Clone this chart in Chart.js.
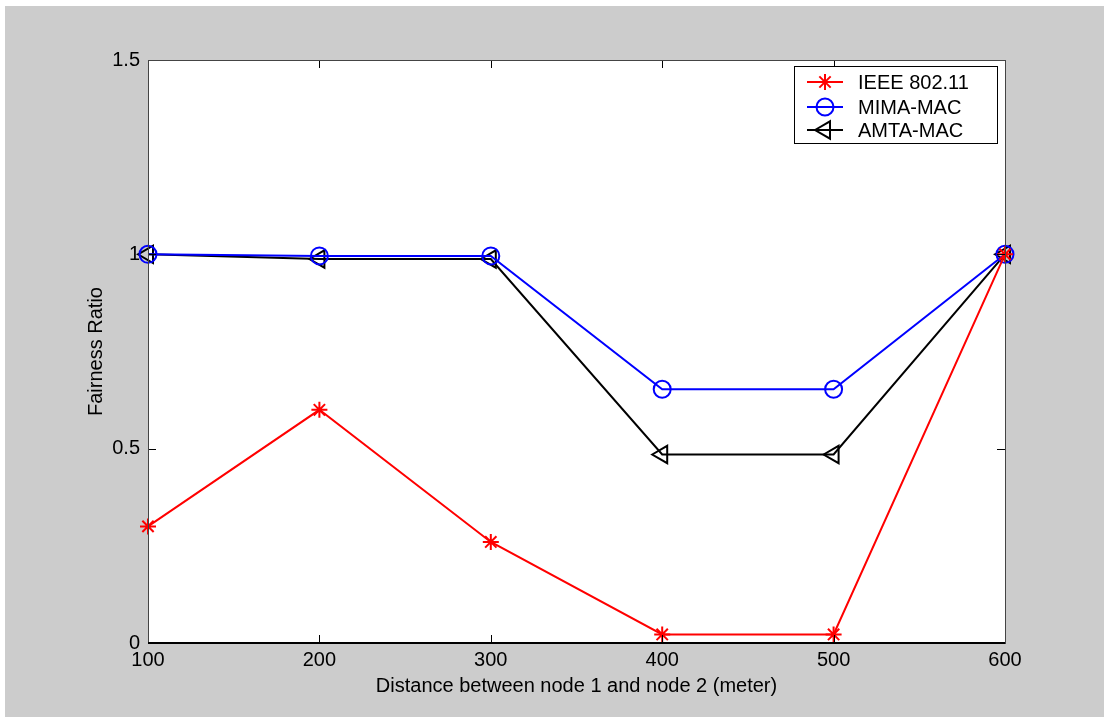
<!DOCTYPE html>
<html lang="en">
<head>
  <meta charset="UTF-8">
  <title>Fairness Ratio</title>
  <script src="https://cdn.jsdelivr.net/npm/chart.js@4.4.2/dist/chart.umd.min.js"></script>
  <style>
    body{
      margin: 0;
      background-color: white;
      width: 1104px;
      height: 717px;
      overflow: hidden;
    }
    #myChart{
      position: absolute;
      left: 5px;
      top: 6px;
      background-color: #cccccc;
    }
  </style>
</head>
<body>
  <canvas id="myChart" width="1099" height="711"></canvas>
  <script>
    // data
    const distances = [100, 200, 300, 400, 500, 600];
    const ieee = [0.3, 0.6, 0.26, 0.022, 0.022, 1.0];
    const mima = [1.0, 0.996, 0.996, 0.653, 0.653, 1.0];
    const amta = [1.0, 0.988, 0.988, 0.485, 0.485, 1.0];
    const yTicks = [0, 0.5, 1, 1.5];
    const seriesNames = ['IEEE 802.11', 'MIMA-MAC', 'AMTA-MAC'];

    const FONT = 'Arial, "Liberation Sans", sans-serif';

    function pts(ys){
      return distances.map((x, i) => ({x: x, y: ys[i]}));
    }

    // matlab style box with inward ticks, plus the legend
    const frame = {
      id: 'frame',
      beforeDatasetsDraw(chart){
        const {ctx, chartArea: a} = chart;
        ctx.save();
        ctx.fillStyle = 'white';
        ctx.fillRect(a.left, a.top, a.right - a.left, a.bottom - a.top);
        ctx.restore();
      },
      afterDatasetsDraw(chart){
        const {ctx, chartArea: a, scales: {x, y}} = chart;
        ctx.save();
        ctx.strokeStyle = '#000';
        ctx.lineWidth = 1;
        const L = 8;
        ctx.beginPath();
        distances.forEach(d => {
          const px = Math.round(x.getPixelForValue(d)) + 0.5;
          ctx.moveTo(px, a.bottom); ctx.lineTo(px, a.bottom - L);
          ctx.moveTo(px, a.top); ctx.lineTo(px, a.top + L);
        });
        yTicks.forEach(v => {
          const py = Math.round(y.getPixelForValue(v)) + 0.5;
          ctx.moveTo(a.left, py); ctx.lineTo(a.left + L, py);
          ctx.moveTo(a.right, py); ctx.lineTo(a.right - L, py);
        });
        ctx.stroke();
        ctx.strokeStyle = '#444';
        ctx.strokeRect(Math.round(a.left) + 0.5, Math.round(a.top) + 0.5,
          Math.round(a.right - a.left), Math.round(a.bottom - a.top));
        ctx.strokeStyle = '#000';
        ctx.lineWidth = 2;
        ctx.beginPath();
        ctx.moveTo(a.left, Math.round(a.bottom));
        ctx.lineTo(a.right, Math.round(a.bottom));
        ctx.stroke();

        // legend
        const bx = 789, by = 60, bw = 203, bh = 77;
        ctx.fillStyle = 'white';
        ctx.fillRect(bx, by, bw, bh);
        ctx.strokeStyle = '#000';
        ctx.lineWidth = 1;
        ctx.strokeRect(bx + 0.5, by + 0.5, bw, bh);
        const rows = [76, 101, 124];
        chart.data.datasets.forEach((ds, i) => {
          const ry = rows[i];
          ctx.strokeStyle = ds.borderColor;
          ctx.lineWidth = 2;
          ctx.beginPath();
          ctx.moveTo(802, ry); ctx.lineTo(838, ry);
          ctx.stroke();
          ctx.fillStyle = 'rgba(0,0,0,0)';
          ctx.strokeStyle = ds.pointBorderColor;
          ctx.lineWidth = ds.pointBorderWidth;
          Chart.helpers.drawPoint(ctx, {
            pointStyle: ds.pointStyle,
            radius: ds.pointRadius,
            rotation: ds.pointRotation || 0,
            borderWidth: ds.pointBorderWidth
          }, 820, ry);
          ctx.fillStyle = '#000';
          ctx.font = '20px ' + FONT;
          ctx.textBaseline = 'middle';
          ctx.textAlign = 'left';
          ctx.fillText(seriesNames[i], 853, ry + 1);
        });
        ctx.restore();
      }
    };

    const ctx = document.getElementById('myChart').getContext('2d');
    const myChart = new Chart(ctx, {
      type: 'line',
      data: {
        datasets: [{
          label: seriesNames[0],
          data: pts(ieee),
          borderColor: '#ff0000',
          backgroundColor: '#ff0000',
          borderWidth: 2,
          pointStyle: 'star',
          pointRadius: 8,
          pointBorderWidth: 2,
          pointBorderColor: '#ff0000',
          clip: false
        }, {
          label: seriesNames[1],
          data: pts(mima),
          borderColor: '#0000ff',
          backgroundColor: 'rgba(0,0,0,0)',
          borderWidth: 2,
          pointStyle: 'circle',
          pointRadius: 8.5,
          pointBorderWidth: 2,
          pointBorderColor: '#0000ff',
          clip: false
        }, {
          label: seriesNames[2],
          data: pts(amta),
          borderColor: '#000000',
          backgroundColor: 'rgba(0,0,0,0)',
          borderWidth: 2,
          pointStyle: 'triangle',
          pointRotation: -90,
          pointRadius: 10,
          pointBorderWidth: 2,
          pointBorderColor: '#000000',
          clip: false
        }]
      },
      options: {
        responsive: false,
        animation: false,
        layout: { padding: { left: 0, top: 54, right: 99, bottom: 0 } },
        plugins: {
          legend: { display: false },
          tooltip: { enabled: false }
        },
        scales: {
          x: {
            type: 'linear',
            min: 100,
            max: 600,
            afterFit(scale){ scale.height = 74; },
            grid: { display: false, drawTicks: false },
            border: { display: false },
            ticks: {
              stepSize: 100,
              padding: 5,
              color: '#000',
              font: { family: FONT, size: 20 }
            },
            title: {
              display: true,
              text: 'Distance between node 1 and node 2 (meter)',
              color: '#000',
              font: { family: FONT, size: 20 },
              padding: { top: 0, bottom: 19 }
            }
          },
          y: {
            min: 0,
            max: 1.5,
            afterFit(scale){ scale.width = 143; },
            grid: { display: false, drawTicks: false },
            border: { display: false },
            ticks: {
              stepSize: 0.5,
              padding: 8,
              color: '#000',
              font: { family: FONT, size: 20 },
              callback: function(value){ return String(value); }
            },
            title: {
              display: true,
              text: 'Fairness Ratio',
              color: '#000',
              font: { family: FONT, size: 20 },
              padding: { top: 79, bottom: 0 }
            }
          }
        }
      },
      plugins: [frame]
    });
  </script>
</body>
</html>
